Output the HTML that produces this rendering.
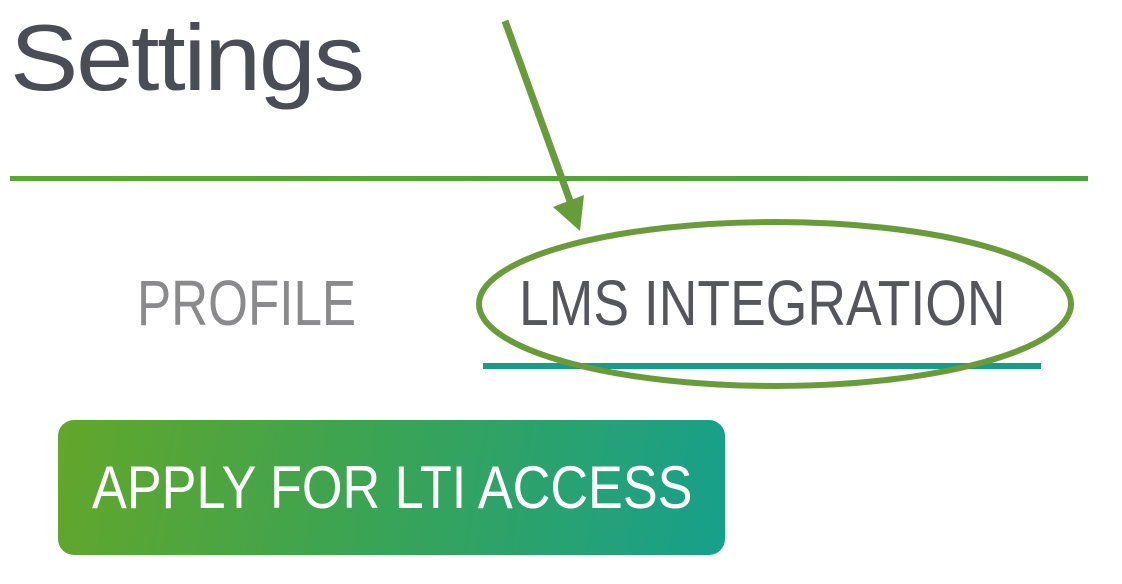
<!DOCTYPE html>
<html><head><meta charset="utf-8"><style>
html,body{margin:0;padding:0;background:#fff;width:1122px;height:584px;overflow:hidden;position:relative;font-family:"DejaVu Sans","Liberation Sans",sans-serif}
.t{position:absolute;white-space:nowrap;transform-origin:0 0}
</style></head><body>
<div class="t" style="left:10px;top:4px;font-size:94px;color:#4a4d55;font-family:'Liberation Sans',sans-serif;letter-spacing:-2px;transform:scaleX(1.09)">Settings</div>
<div style="position:absolute;left:10px;top:176px;width:1078px;height:5px;background:linear-gradient(90deg,#5ea62e,#4aa040)"></div>
<div class="t" style="left:137px;top:268px;font-size:64px;line-height:70px;color:#8a8a8c;font-family:'Liberation Sans',sans-serif;transform:scaleX(0.80)">PROFILE</div>
<div class="t" style="left:519px;top:268px;font-size:64px;line-height:70px;color:#55565c;font-family:'Liberation Sans',sans-serif;transform:scaleX(0.836)">LMS INTEGRATION</div>
<div style="position:absolute;left:483px;top:363px;width:558px;height:6px;background:#1a9a88"></div>
<div style="position:absolute;left:58px;top:420px;width:667px;height:135px;border-radius:16px;background:linear-gradient(100deg,#63a62a,#3ca452 45%,#17a08c)"></div>
<div class="t" style="left:92px;top:455px;font-size:60px;line-height:66px;color:#fff;font-family:'Liberation Sans',sans-serif;transform:scaleX(0.87)">APPLY FOR LTI ACCESS</div>
<svg width="1122" height="584" style="position:absolute;left:0;top:0">
<ellipse cx="775" cy="304" rx="296" ry="82" fill="none" stroke="#699b3b" stroke-width="6"/>
<line x1="505" y1="21" x2="574" y2="212" stroke="#679c3c" stroke-width="7"/>
<polygon points="580,231 553,207 584,195" fill="#679c3c"/>
</svg>
</body></html>
